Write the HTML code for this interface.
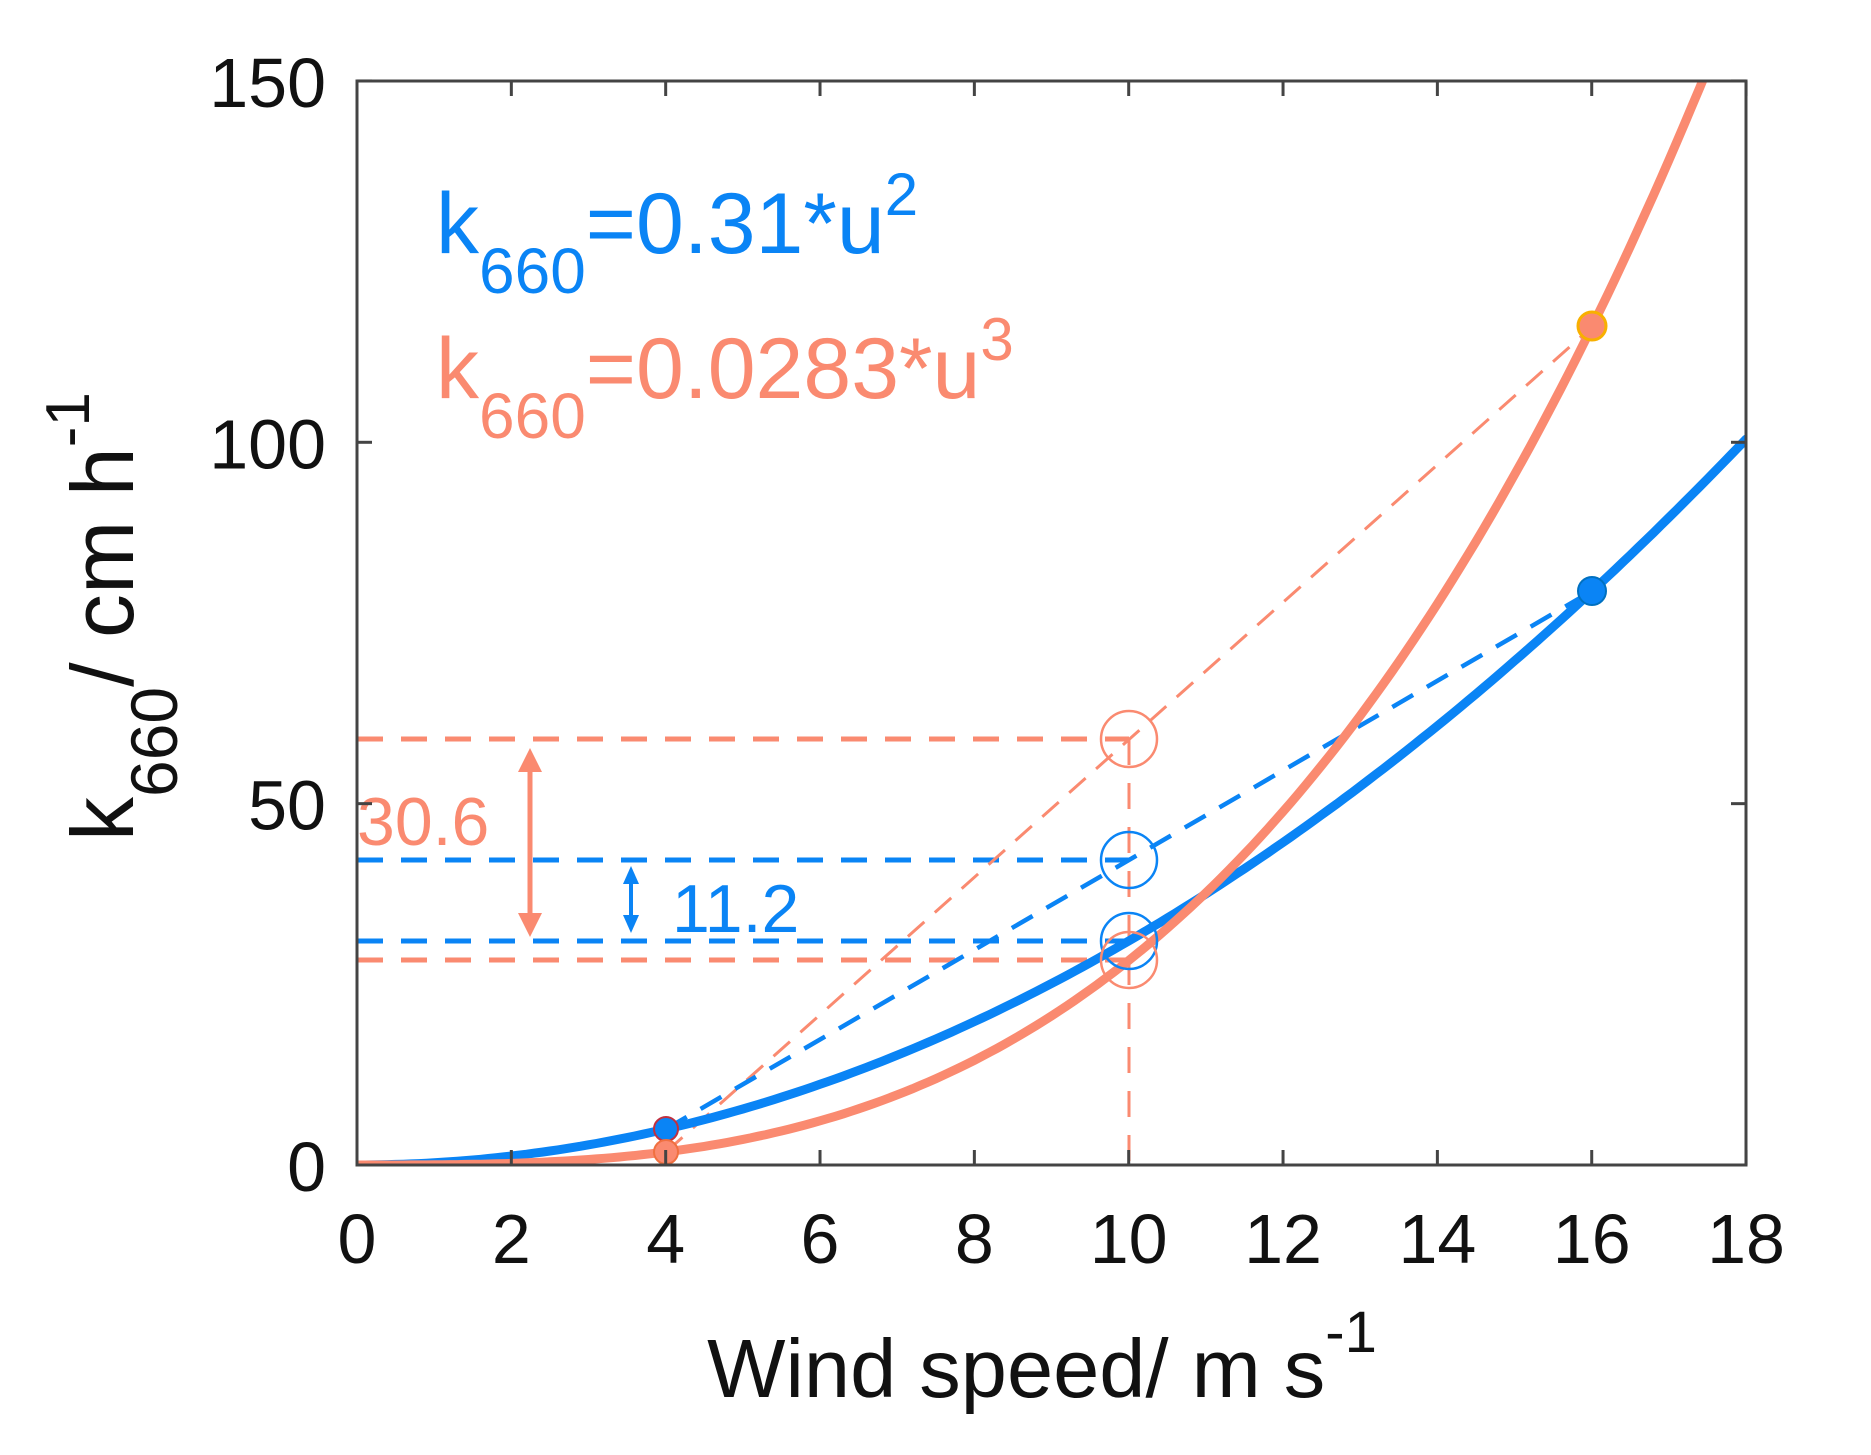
<!DOCTYPE html>
<html><head><meta charset="utf-8"><style>
html,body{margin:0;padding:0;background:#fff}
svg{display:block}
text{font-family:"Liberation Sans",Arial,sans-serif}
</style></head><body>
<svg width="1871" height="1455" viewBox="0 0 1871 1455" xmlns="http://www.w3.org/2000/svg">
<defs>
<clipPath id="c"><rect x="357" y="81" width="1389" height="1084"/></clipPath>
</defs>
<g stroke-width="5" fill="none">
<line x1="357" y1="739" x2="1129" y2="739" stroke="#fa8a70" stroke-dasharray="26 18"/>
<line x1="357" y1="860" x2="1129" y2="860" stroke="#0a84f5" stroke-dasharray="26 18"/>
<line x1="357" y1="941" x2="1129" y2="941" stroke="#0a84f5" stroke-dasharray="26 18"/>
<line x1="357" y1="960" x2="1129" y2="960" stroke="#fa8a70" stroke-dasharray="26 18"/>
</g>
<line x1="1129" y1="739" x2="1129" y2="1165" stroke="#fa8a70" stroke-width="3" stroke-dasharray="26 18"/>
<line x1="666" y1="1152" x2="1592" y2="327" stroke="#fa8a70" stroke-width="3" stroke-dasharray="22 14"/>
<line x1="666" y1="1129" x2="1592" y2="591" stroke="#0a84f5" stroke-width="4.5" stroke-dasharray="24 16"/>
<g clip-path="url(#c)" fill="none" stroke-width="9" stroke-linecap="round">
<path id="blue" stroke="#0a84f5" d=""/>
<path id="pink" stroke="#fa8a70" d=""/>
</g>
<g fill="none" stroke-width="2.5">
<circle cx="1129" cy="739" r="28" stroke="#fa8a70"/>
<circle cx="1129" cy="860" r="28" stroke="#0a84f5"/>
<circle cx="1129" cy="941" r="28" stroke="#0a84f5"/>
<circle cx="1129" cy="960" r="28" stroke="#fa8a70"/>
</g>
<circle cx="666" cy="1129" r="12" fill="#0a84f5" stroke="#c03040" stroke-width="2"/>
<circle cx="666" cy="1152" r="12" fill="#fa8a70" stroke="#f07040" stroke-width="2"/>
<circle cx="1592" cy="591" r="14" fill="#0a84f5" stroke="#0070c0" stroke-width="2"/>
<circle cx="1592" cy="326" r="14" fill="#fa8a70" stroke="#f8b000" stroke-width="3"/>
<g fill="#fa8a70" stroke="#fa8a70">
<line x1="530" y1="770" x2="530" y2="925" stroke-width="5"/>
<polygon points="530,748 518,772 542,772" stroke="none"/>
<polygon points="530,937 518,913 542,913" stroke="none"/>
</g>
<g fill="#0a84f5" stroke="#0a84f5">
<line x1="631" y1="880" x2="631" y2="918" stroke-width="4"/>
<polygon points="631,866 623,884 639,884" stroke="none"/>
<polygon points="631,933 623,915 639,915" stroke="none"/>
</g>
<text x="357" y="845" font-size="68" fill="#fa8a70">30.6</text>
<text x="672" y="932" font-size="68" fill="#0a84f5">11.2</text>
<text x="436" y="253" font-size="86" fill="#0a84f5">k<tspan font-size="64" dy="40">660</tspan><tspan dy="-40">=0.31*u</tspan><tspan font-size="60" dy="-38">2</tspan></text>
<text x="436" y="398" font-size="86" fill="#fa8a70">k<tspan font-size="64" dy="40">660</tspan><tspan dy="-40">=0.0283*u</tspan><tspan font-size="60" dy="-38">3</tspan></text>
<rect x="357" y="81" width="1389" height="1084" fill="none" stroke="#444" stroke-width="3"/>
<g id="ticks" stroke="#444" stroke-width="3"></g>
<g id="labels" font-size="70" fill="#111"></g>
<text x="1042" y="1397" font-size="83" fill="#111" text-anchor="middle">Wind speed/ m s<tspan font-size="58" dy="-45">-1</tspan></text>
<text transform="translate(133,841) rotate(-90)" font-size="88" fill="#111">k<tspan font-size="66" dy="44">660</tspan><tspan dy="-44">/ cm h</tspan><tspan font-size="62" dy="-44">-1</tspan></text>
</svg>
<script>
(function(){
var x0=357,xs=77.17,y0=1165,ys=7.227;
function X(u){return x0+u*xs} function Y(v){return y0-v*ys}
var b="",p="";
for(var i=0;i<=180;i++){var u=i/10;b+=(i?"L":"M")+X(u).toFixed(1)+" "+Y(0.31*u*u).toFixed(1);}
for(var i=0;i<=180;i++){var u=i/10;var v=0.0283*u*u*u;if(v>160)break;p+=(i?"L":"M")+X(u).toFixed(1)+" "+Y(v).toFixed(1);}
document.getElementById("blue").setAttribute("d",b);
document.getElementById("pink").setAttribute("d",p);
var ns="http://www.w3.org/2000/svg",t=document.getElementById("ticks"),l=document.getElementById("labels");
function ln(a,b2,c,d){var e=document.createElementNS(ns,"line");e.setAttribute("x1",a);e.setAttribute("y1",b2);e.setAttribute("x2",c);e.setAttribute("y2",d);t.appendChild(e);}
function tx(x,y,s,anc){var e=document.createElementNS(ns,"text");e.setAttribute("x",x);e.setAttribute("y",y);e.setAttribute("text-anchor",anc);e.textContent=s;l.appendChild(e);}
for(var u=0;u<=18;u+=2){var x=X(u);ln(x,1165,x,1150);ln(x,81,x,96);tx(x,1263,String(u),"middle");}
for(var v=0;v<=150;v+=50){var y=Y(v);ln(357,y,372,y);ln(1746,y,1731,y);tx(326,y+26,String(v),"end");}
})();
</script>
</body></html>
